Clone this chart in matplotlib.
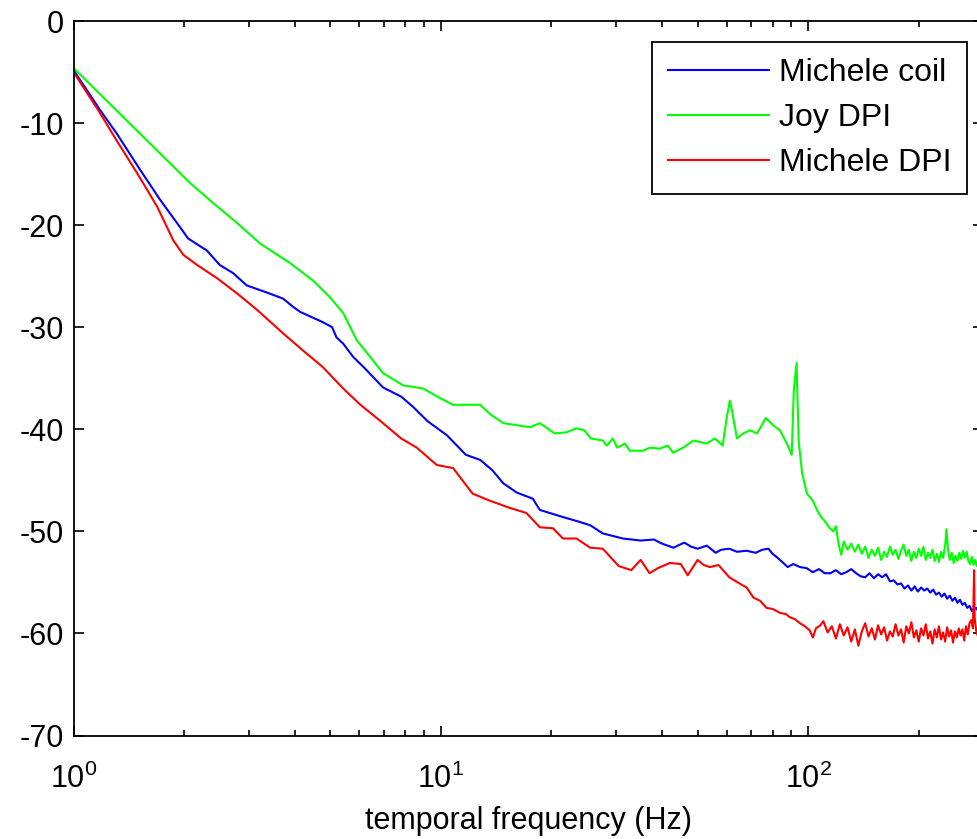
import matplotlib
matplotlib.use("Agg")
import matplotlib.pyplot as plt
from matplotlib.ticker import LogLocator, FixedLocator

plt.rcParams['font.family'] = ['Liberation Sans', 'DejaVu Sans']
plt.rcParams['mathtext.fontset'] = 'custom'
plt.rcParams['mathtext.rm'] = 'Liberation Sans'
plt.rcParams['mathtext.it'] = 'Liberation Sans'
plt.rcParams['mathtext.bf'] = 'Liberation Sans'
plt.rcParams['axes.unicode_minus'] = False

# ---------------- data ----------------
series_labels = ["Michele coil", "Joy DPI", "Michele DPI"]
series_colors = ["#0000ff", "#00ff00", "#ff0000"]

coil_f = [1, 1.18, 1.31, 1.52, 1.72, 1.95, 2.05, 2.31, 2.5, 2.72,
          2.96, 3.36, 3.72, 3.96, 4.14, 4.77, 5.06, 5.2, 5.42, 5.77,
          6.2, 6.96, 7.8, 8.4, 9.2, 10.4, 11.7, 12.8, 13.8, 14.8,
          16.1, 17.8, 18.6, 21.5, 23.5, 25.5, 27.6, 31.3, 35, 38,
          40, 43, 46, 48, 50, 53, 56, 58, 61, 64,
          68, 72, 75, 78, 80, 82, 85, 88, 91, 95,
          99, 103, 107, 111, 115, 119, 123, 127, 131, 135,
          139, 143, 147, 151, 155, 159, 163, 167, 171, 175,
          179, 183, 187, 191, 195, 199, 203, 207, 211, 215,
          219, 223, 227, 231, 235, 239, 243, 247, 251, 255,
          259, 263, 267, 271, 275, 279, 283, 287, 291, 295]
coil_db = [-4.8, -8.7, -11.0, -14.6, -17.5, -20.2, -21.3, -22.5, -23.9, -24.7,
           -25.9, -26.6, -27.2, -28.0, -28.5, -29.5, -30.0, -31.0, -31.6, -32.9,
           -34.0, -35.9, -36.8, -37.8, -39.2, -40.6, -42.5, -43.0, -44.0, -45.3,
           -46.2, -46.8, -47.9, -48.6, -49.0, -49.4, -50.2, -50.7, -50.9, -50.8,
           -51.2, -51.6, -51.1, -51.5, -51.7, -51.4, -52.1, -51.8, -51.7, -52.0,
           -51.9, -52.1, -51.8, -51.7, -52.2, -52.5, -53.0, -53.5, -53.2, -53.5,
           -53.6, -54.0, -53.7, -54.1, -54.1, -53.8, -54.2, -54.0, -53.7, -54.1,
           -54.4, -54.5, -54.1, -54.6, -54.2, -54.5, -54.2, -54.9, -54.8, -55.2,
           -55.1, -55.6, -55.3, -55.8, -55.4, -55.9, -55.5, -55.8, -55.6, -56.0,
           -55.7, -56.2, -56.0, -56.4, -56.1, -56.6, -56.3, -56.8, -56.5, -57.0,
           -56.7, -57.2, -57.0, -57.5, -57.3, -57.8, -57.6, -57.5, -57.9, -57.7]

joy_f = [1, 2.08, 2.43, 2.79, 3.22, 3.88, 4.48, 5.0, 5.42, 5.91,
         6.42, 6.96, 7.89, 8.94, 9.9, 10.8, 12.8, 13.6, 14.8, 17.5,
         18.6, 20.4, 22.0, 23.4, 24.6, 25.6, 27.6, 28.3, 29.4, 30.2,
         31.7, 32.7, 35.5, 37.1, 39.4, 41.5, 42.9, 45.7, 48.7, 52.9,
         55.7, 58.5, 60.0, 61.2, 62.0, 64.0, 66.6, 69.5, 72.6, 76.7,
         80.3, 83.8, 87.5, 90.2, 91.4, 93.0, 94.2, 96.3, 99.2, 103,
         106, 108, 111, 114, 117, 119, 121, 123, 125, 128,
         131, 134, 137, 140, 143, 146, 149, 152, 155, 158,
         161, 164, 167, 170, 173, 176, 179, 182, 185, 188,
         191, 194, 197, 200, 203, 206, 209, 212, 215, 218,
         221, 224, 227, 230, 233, 236, 238, 240, 243, 246,
         249, 252, 255, 258, 261, 264, 267, 270, 273, 276,
         279, 282, 285, 288, 291, 294, 297]
joy_db = [-4.6, -15.9, -18.0, -19.8, -21.8, -23.7, -25.4, -27.1, -28.6, -31.3,
          -32.9, -34.5, -35.7, -36.0, -36.9, -37.6, -37.6, -38.5, -39.4, -39.8,
          -39.4, -40.4, -40.3, -39.9, -40.1, -40.9, -41.1, -41.6, -40.9, -41.8,
          -41.4, -42.1, -42.1, -41.8, -41.9, -41.6, -42.3, -41.8, -41.1, -41.4,
          -40.9, -41.6, -38.9, -37.2, -38.1, -40.9, -40.4, -40.1, -40.4, -38.9,
          -39.6, -40.1, -41.4, -42.5, -36.2, -33.5, -41.1, -44.3, -46.3, -47.0,
          -48.0, -48.5, -49.0, -49.6, -50.0, -49.5, -51.2, -52.3, -51.0, -51.8,
          -51.2, -52.0, -51.3, -52.2, -51.5, -52.6, -51.8, -52.4, -51.6, -52.8,
          -52.0, -52.5, -51.5, -52.3, -51.8, -52.7, -51.9, -51.3, -52.4, -51.8,
          -52.9, -52.0, -52.6, -51.7, -52.4, -51.5, -52.8, -52.1, -52.6, -51.8,
          -52.9, -52.2, -53.0, -52.0, -52.6, -51.4, -49.8, -51.6, -52.8, -52.1,
          -53.1, -52.4, -52.9, -52.1, -52.7, -51.9, -52.6, -52.0, -52.9, -53.2,
          -52.5, -53.3, -52.8, -53.4, -52.7, -53.2, -53.0]

mdpi_f = [1, 1.18, 1.31, 1.49, 1.69, 1.87, 1.99, 2.17, 2.46, 2.79,
          3.16, 3.72, 4.22, 4.77, 5.42, 6.04, 6.8, 7.8, 8.6, 9.75,
          10.8, 12.2, 13.6, 15.4, 17.1, 18.6, 20.2, 21.5, 23.4, 25.5,
          27.6, 30.5, 33, 35, 37, 39, 42, 45, 47, 50,
          52, 54, 57, 59, 61, 63, 65, 68, 71, 74,
          77, 80, 84, 87, 89, 92, 95, 98, 101, 103,
          105, 108, 110, 113, 116, 119, 122, 125, 128, 131,
          134, 137, 140, 143, 146, 149, 152, 155, 158, 161,
          164, 167, 170, 173, 176, 179, 182, 185, 188, 191,
          194, 197, 200, 203, 206, 209, 212, 215, 218, 221,
          224, 227, 230, 233, 236, 239, 242, 245, 248, 251,
          254, 257, 260, 263, 266, 269, 272, 275, 278, 281,
          283, 284, 287, 290, 293, 296]
mdpi_db = [-5.0, -9.0, -11.7, -14.9, -18.2, -21.5, -22.9, -23.9, -25.2, -26.7,
           -28.3, -30.6, -32.3, -33.9, -36.0, -37.6, -39.1, -40.9, -41.8, -43.5,
           -43.8, -46.3, -47.0, -47.7, -48.2, -49.6, -49.7, -50.7, -50.7, -51.6,
           -51.7, -53.4, -53.8, -52.8, -54.1, -53.6, -53.1, -53.2, -54.3, -52.8,
           -53.3, -53.5, -53.3, -53.9, -54.5, -54.8, -55.1, -55.5, -56.5, -56.8,
           -57.5, -57.6, -58.0, -58.1, -58.4, -58.6, -59.0, -59.3, -59.7, -60.4,
           -59.5, -59.2, -58.8, -59.9, -59.3, -60.5, -59.1, -60.2, -59.4, -60.8,
           -59.6, -61.2, -59.8, -59.0, -60.3, -59.5, -60.6, -59.2, -60.1, -59.4,
           -60.7, -59.8, -60.3, -59.1, -60.2, -59.6, -60.9, -59.3, -60.0, -58.9,
           -60.4, -59.7, -60.8, -59.5, -60.2, -59.1, -60.5, -59.8, -61.0, -59.6,
           -60.4, -59.3, -60.6, -59.9, -60.8, -59.4, -60.3, -59.7, -60.9, -59.8,
           -60.4, -59.5, -60.2, -59.6, -60.7, -59.3, -60.1, -59.0, -58.7, -59.5,
           -53.8, -58.5, -59.8, -60.3, -59.5, -60.0]

y_ticks = [-70, -60, -50, -40, -30, -20, -10, 0]
x_label = "temporal frequency (Hz)"
x_range = [1, 300]
y_range = [-70, 0]

# ---------------- figure ----------------
W, H = 977, 839
fig = plt.figure(figsize=(W / 100, H / 100), dpi=100)
left_px, right_px, top_px, bottom_px = 73.5, 983.4, 21, 735.5
ax = fig.add_axes([left_px / W, (H - bottom_px) / H,
                   (right_px - left_px) / W, (bottom_px - top_px) / H])

for f, v, lab, col in zip([coil_f, joy_f, mdpi_f], [coil_db, joy_db, mdpi_db],
                          series_labels, series_colors):
    ax.plot(f, v, color=col, lw=1.5, label=lab)

ax.set_xscale('log')
ax.set_xlim(x_range)
ax.set_ylim(y_range)
ax.yaxis.set_major_locator(FixedLocator(y_ticks))
ax.xaxis.set_major_locator(LogLocator(base=10, numticks=10))
ax.xaxis.set_minor_locator(LogLocator(base=10, subs=range(2, 10), numticks=20))

for s in ax.spines.values():
    s.set_linewidth(1.3)
    s.set_color('black')

ax.tick_params(which='both', direction='in', top=True, right=True,
               width=1.2, colors='black', labelsize=22)
ax.tick_params(which='major', length=7.5)
ax.tick_params(which='minor', length=4.5)
ax.tick_params(axis='y', which='major', pad=7)
ax.tick_params(axis='x', which='major', pad=20)

ax.set_xlabel(x_label, fontsize=22, labelpad=8)

leg = ax.legend(loc='upper right', bbox_to_anchor=(0.982, 0.971),
                borderaxespad=0, fancybox=False, edgecolor='black',
                framealpha=1, fontsize=23, handlelength=3.15,
                handletextpad=0.31, labelspacing=0.48, borderpad=0.5)
leg.get_frame().set_linewidth(1.3)

fig.savefig("out.png", dpi=100)
